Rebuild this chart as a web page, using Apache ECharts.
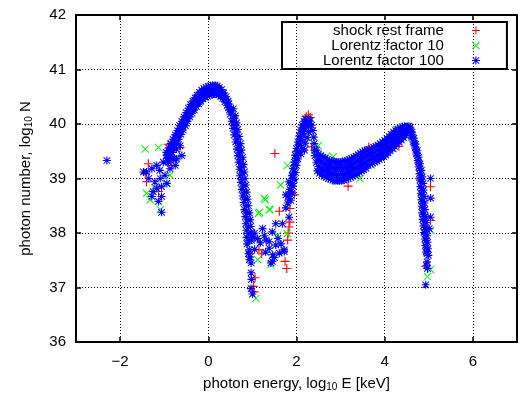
<!DOCTYPE html>
<html><head><meta charset="utf-8">
<script src="https://cdn.jsdelivr.net/npm/echarts@6/dist/echarts.min.js"></script>
<style>html,body{margin:0;padding:0;background:#fff}#c{width:531px;height:398px}</style>
</head><body><div id="c"></div>
<script>
const xTicks = [-2, 0, 2, 4, 6];
const yTicks = [36, 37, 38, 39, 40, 41, 42];
const seriesNames = ['shock rest frame', 'Lorentz factor 10', 'Lorentz factor 100'];

// ---- blue: Lorentz factor 100 ----
const blueCluster = [[-2.30,39.33],[-1.47,39.12],[-1.40,39.12],[-1.28,39.18],[-1.17,39.24],[-1.02,39.30],[-0.94,39.42],[-0.83,39.48],[-0.72,39.36],[-0.75,39.24],[-0.87,39.18],[-0.98,39.06],[-1.09,39.00],[-1.21,38.94],[-1.17,38.82],[-1.06,38.85],[-0.94,38.91],[-1.28,38.67],[-1.25,38.76],[-1.06,38.67],[-1.13,38.58],[-1.06,38.38],[-0.72,39.54],[-0.64,39.60],[-0.60,39.42],[-0.79,39.63],[-1.35,39.00],[-0.90,39.30],[-1.10,39.15],[-0.80,39.36]];
const blueHumpA = [[-0.95,39.48],[-0.90,39.56],[-0.85,39.64],[-0.80,39.72],[-0.75,39.80],[-0.70,39.88],[-0.65,39.97],[-0.60,40.05],[-0.55,40.13],[-0.50,40.21],[-0.45,40.29],[-0.40,40.36],[-0.35,40.42],[-0.30,40.48],[-0.25,40.53],[-0.20,40.58],[-0.15,40.62],[-0.10,40.65],[-0.05,40.67],[0.00,40.69],[0.05,40.70],[0.10,40.71],[0.15,40.71],[0.20,40.70],[0.25,40.67],[0.30,40.63],[0.35,40.57],[0.40,40.50],[0.45,40.42]];
const blueHumpB = [[-0.94,39.43],[-0.89,39.51],[-0.84,39.59],[-0.79,39.67],[-0.74,39.75],[-0.69,39.83],[-0.64,39.92],[-0.59,40.00],[-0.54,40.08],[-0.49,40.16],[-0.44,40.24],[-0.39,40.31],[-0.34,40.37],[-0.29,40.43],[-0.24,40.48],[-0.19,40.53],[-0.14,40.57],[-0.09,40.60],[-0.04,40.62],[0.01,40.64],[0.06,40.65],[0.11,40.66],[0.16,40.66],[0.21,40.65],[0.26,40.62],[0.31,40.58],[0.36,40.52],[0.41,40.45],[0.46,40.37]];
const blueHumpC = [[-0.93,39.37],[-0.88,39.45],[-0.83,39.53],[-0.78,39.61],[-0.73,39.69],[-0.68,39.77],[-0.63,39.86],[-0.58,39.94],[-0.53,40.02],[-0.48,40.10],[-0.43,40.18],[-0.38,40.25],[-0.33,40.31],[-0.28,40.37],[-0.23,40.42],[-0.18,40.47],[-0.13,40.51],[-0.08,40.54],[-0.03,40.56],[0.02,40.58],[0.07,40.59],[0.12,40.60],[0.17,40.60],[0.22,40.59],[0.27,40.56],[0.32,40.52],[0.37,40.46],[0.42,40.39],[0.47,40.31]];
const blueHumpD = [[-0.92,39.32],[-0.87,39.40],[-0.82,39.48],[-0.77,39.56],[-0.72,39.64],[-0.67,39.72],[-0.62,39.81],[-0.57,39.89],[-0.52,39.97],[-0.47,40.05],[-0.42,40.13],[-0.37,40.20],[-0.32,40.26],[-0.27,40.32],[-0.22,40.37],[-0.17,40.42],[-0.12,40.46],[-0.07,40.49],[-0.02,40.51],[0.03,40.53],[0.08,40.54],[0.13,40.55],[0.18,40.55],[0.23,40.54],[0.28,40.51],[0.33,40.47],[0.38,40.41],[0.43,40.34],[0.48,40.26]];
const blueFallLeft = [[0.46,40.30],[0.50,40.18],[0.53,40.05],[0.56,39.92],[0.59,39.80],[0.62,39.67],[0.65,39.54],[0.67,39.42],[0.69,39.30],[0.71,39.17],[0.72,39.05],[0.74,38.93],[0.76,38.80],[0.78,38.68],[0.80,38.56],[0.82,38.43],[0.84,38.30],[0.85,38.17],[0.86,38.05],[0.87,37.92],[0.88,37.80]];
const blueFallMid = [[0.53,40.24],[0.57,40.10],[0.60,39.97],[0.63,39.85],[0.66,39.72],[0.69,39.60],[0.71,39.47],[0.73,39.35],[0.75,39.22],[0.77,39.10],[0.78,38.98],[0.80,38.86],[0.82,38.74],[0.84,38.62],[0.86,38.50],[0.88,38.37],[0.90,38.24],[0.91,38.11],[0.92,37.99],[0.93,37.86]];
const blueFallRight = [[0.57,40.28],[0.61,40.15],[0.64,40.02],[0.67,39.90],[0.70,39.77],[0.73,39.64],[0.75,39.52],[0.78,39.39],[0.80,39.26],[0.82,39.12],[0.83,39.00],[0.85,38.88],[0.87,38.75],[0.89,38.62],[0.91,38.50],[0.93,38.37],[0.95,38.24],[0.96,38.12],[0.97,38.00],[0.98,37.87]];
const blueColumn = [[0.93,37.69],[0.95,37.56],[0.97,37.45],[0.93,37.51],[0.97,37.27],[0.98,37.15],[0.97,36.98],[1.00,36.88],[0.91,37.62]];
const blueDip = [[1.23,38.08],[1.31,37.87],[1.38,37.72],[1.46,37.60],[1.53,37.78],[1.42,37.45],[1.68,38.17],[1.72,37.66],[1.38,37.84],[1.45,38.02],[1.45,37.48],[1.61,37.63],[1.53,38.17],[1.72,37.69],[1.83,38.29],[1.76,38.46],[1.76,38.70],[1.83,38.94],[1.91,39.06],[1.05,38.00],[1.12,37.90],[1.18,37.82],[1.27,37.95],[1.58,37.90],[1.65,37.80],[1.30,37.65],[1.50,37.55],[1.05,37.70],[1.00,37.92]];
const blueRiseLeft = [[1.80,38.55],[1.82,38.68],[1.85,38.80],[1.87,38.92],[1.90,39.05],[1.92,39.18],[1.95,39.30],[1.97,39.43],[2.00,39.55],[2.03,39.67],[2.06,39.78],[2.09,39.89],[2.13,39.98],[2.17,40.05],[2.21,40.09]];
const blueRiseMid = [[1.83,38.62],[1.86,38.75],[1.89,38.88],[1.91,39.00],[1.94,39.12],[1.96,39.24],[1.99,39.37],[2.02,39.49],[2.05,39.61],[2.08,39.72],[2.11,39.83],[2.15,39.93],[2.19,40.01],[2.23,40.07],[2.27,40.09]];
const blueRiseRight = [[1.87,38.60],[1.90,38.73],[1.92,38.86],[1.95,38.98],[1.98,39.11],[2.00,39.24],[2.03,39.36],[2.06,39.49],[2.09,39.61],[2.12,39.72],[2.15,39.83],[2.18,39.93],[2.22,40.00],[2.26,40.05],[2.29,40.06],[2.15,39.55],[2.20,39.65],[2.24,39.75],[2.27,39.86],[2.28,39.95],[2.10,39.45],[2.18,39.52]];
const blueSpikeFall = [[2.30,40.05],[2.34,39.98],[2.37,39.88],[2.39,39.76],[2.40,39.64],[2.41,39.52],[2.42,39.42]];
const blueTroughA = [[2.45,39.52],[2.50,39.45],[2.55,39.42],[2.60,39.39],[2.65,39.37],[2.70,39.35],[2.75,39.33],[2.80,39.32],[2.85,39.31],[2.90,39.30],[2.95,39.30],[3.00,39.30],[3.05,39.31],[3.10,39.32],[3.15,39.33],[3.20,39.35],[3.25,39.37],[3.30,39.39],[3.35,39.41],[3.40,39.44],[3.45,39.46],[3.50,39.49],[3.55,39.51],[3.60,39.51],[3.65,39.53],[3.70,39.55],[3.75,39.57],[3.80,39.59],[3.85,39.61],[3.90,39.64],[3.95,39.67],[4.00,39.70],[4.05,39.73],[4.10,39.77],[4.15,39.81],[4.20,39.85],[4.25,39.88],[4.30,39.91],[4.35,39.93],[4.40,39.95],[4.45,39.96]];
const blueTroughB = [[2.475,39.38],[2.525,39.33],[2.575,39.30],[2.625,39.27],[2.675,39.25],[2.725,39.23],[2.775,39.21],[2.825,39.20],[2.875,39.19],[2.925,39.19],[2.975,39.19],[3.025,39.19],[3.075,39.20],[3.125,39.21],[3.175,39.23],[3.225,39.25],[3.275,39.27],[3.325,39.29],[3.375,39.31],[3.425,39.34],[3.475,39.36],[3.525,39.39],[3.575,39.41],[3.625,39.43],[3.675,39.45],[3.725,39.47],[3.775,39.49],[3.825,39.51],[3.875,39.53],[3.925,39.56],[3.975,39.59],[4.025,39.62],[4.075,39.66],[4.125,39.70],[4.175,39.74],[4.225,39.78],[4.275,39.82],[4.325,39.85],[4.375,39.89],[4.425,39.92],[4.475,39.94]];
const blueTroughC = [[2.45,39.29],[2.50,39.22],[2.55,39.19],[2.60,39.16],[2.65,39.14],[2.70,39.12],[2.75,39.10],[2.80,39.09],[2.85,39.08],[2.90,39.07],[2.95,39.07],[3.00,39.07],[3.05,39.08],[3.10,39.09],[3.15,39.10],[3.20,39.12],[3.25,39.14],[3.30,39.16],[3.35,39.19],[3.40,39.21],[3.45,39.24],[3.50,39.26],[3.55,39.29],[3.60,39.32],[3.65,39.34],[3.70,39.36],[3.75,39.38],[3.80,39.40],[3.85,39.43],[3.90,39.45],[3.95,39.48],[4.00,39.51],[4.05,39.55],[4.10,39.58],[4.15,39.62],[4.20,39.66],[4.25,39.70],[4.30,39.74],[4.35,39.78],[4.40,39.82],[4.45,39.85],[4.50,39.88]];
const blueTroughD = [[2.475,39.14],[2.525,39.10],[2.575,39.07],[2.625,39.04],[2.675,39.02],[2.725,39.00],[2.775,38.99],[2.825,38.97],[2.875,38.96],[2.925,38.96],[2.975,38.96],[3.025,38.96],[3.075,38.97],[3.125,38.99],[3.175,39.00],[3.225,39.02],[3.275,39.04],[3.325,39.06],[3.375,39.09],[3.425,39.11],[3.475,39.14],[3.525,39.16],[3.575,39.19],[3.625,39.24],[3.675,39.26],[3.725,39.28],[3.775,39.30],[3.825,39.32],[3.875,39.35],[3.925,39.37],[3.975,39.40],[4.025,39.43],[4.075,39.47],[4.125,39.51],[4.175,39.55],[4.225,39.59],[4.275,39.63],[4.325,39.67],[4.375,39.71],[4.425,39.75],[4.475,39.79]];
const blueEndLeft = [[4.52,39.95],[4.57,39.88],[4.61,39.78],[4.65,39.67],[4.69,39.56],[4.72,39.45],[4.75,39.33],[4.77,39.21],[4.79,39.09],[4.80,38.97],[4.81,38.85],[4.82,38.73],[4.83,38.61],[4.84,38.49],[4.85,38.37],[4.86,38.25],[4.88,38.13],[4.89,38.01],[4.91,37.89],[4.92,37.77],[4.94,37.65]];
const blueEndMid = [[4.55,39.96],[4.59,39.86],[4.63,39.76],[4.67,39.65],[4.71,39.53],[4.74,39.42],[4.77,39.30],[4.80,39.18],[4.82,39.06],[4.83,38.94],[4.84,38.82],[4.85,38.70],[4.86,38.58],[4.87,38.46],[4.88,38.34],[4.89,38.22],[4.91,38.10],[4.92,37.98],[4.94,37.86],[4.95,37.74],[4.96,37.62]];
const blueEndRight = [[4.58,39.94],[4.62,39.85],[4.66,39.74],[4.70,39.63],[4.74,39.51],[4.77,39.39],[4.80,39.27],[4.83,39.15],[4.85,39.03],[4.87,38.91],[4.88,38.79],[4.89,38.67],[4.90,38.55],[4.91,38.43],[4.92,38.31],[4.94,38.19],[4.95,38.07],[4.96,37.95],[4.97,37.83],[4.98,37.71],[4.99,37.59]];
const blueEndTail = [[4.96,37.47],[4.97,37.35],[4.95,37.40],[4.93,37.05],[5.04,39.00],[5.04,38.64],[5.04,38.29],[5.01,38.08]];

// ---- red: shock rest frame ----
const redPoints = [[-1.36,39.27],[-1.43,39.09],[-1.40,38.94],[-0.91,39.63],[-0.64,39.57],[-1.13,38.76],[-0.83,39.24],
  [-0.60,40.00],[-0.30,40.40],[0.00,40.60],[0.30,40.60],[0.60,40.00],[0.75,39.20],[0.85,38.40],
  [1.51,39.46],[0.95,37.62],[1.06,37.18],[1.15,37.69],[1.74,37.48],[1.83,38.11],[1.80,37.87],[1.61,38.40],[1.95,38.70],[1.21,37.62],[1.78,37.35],[1.81,38.00],[1.85,38.20],[1.89,38.75],[1.85,38.45],[1.04,36.92],[1.02,37.02],
  [2.00,39.50],[2.22,40.14],[2.27,40.17],[2.31,40.12],[2.34,39.58],[2.70,39.20],[3.30,39.20],[3.90,39.50],[4.40,39.85],
  [3.17,38.86],[3.64,39.58],[4.32,39.59],[4.80,39.00],[4.90,38.30],[5.04,38.85],[5.04,38.23],[4.93,37.39]];

// ---- green: Lorentz factor 10 ----
const greenPoints = [[-1.43,39.54],[-1.13,39.57],[-1.40,38.73],[-1.32,38.61],[-1.09,38.43],[-0.94,38.91],[-0.87,39.06],[-0.72,39.39],[-1.21,38.82],
  [-0.50,40.02],[-0.20,40.40],[0.30,40.50],[0.60,40.10],[0.82,38.70],[0.90,37.90],
  [1.29,38.61],[1.38,38.43],[1.14,38.36],[1.08,36.80],[1.12,37.51],[1.42,37.42],[1.08,37.87],[1.27,38.64],[1.16,38.38],[1.40,38.43],[1.57,37.96],[1.79,37.99],[1.64,38.88],[1.79,39.24],[1.98,39.30],
  [2.12,39.83],[2.49,39.60],[2.68,39.41],[2.83,39.40],[2.90,38.95],[3.44,39.00],[3.70,39.25],[4.19,39.55],[4.27,39.90],[4.60,39.75],[4.85,38.60],
  [5.04,37.33],[5.04,38.05],[4.97,37.20]];

const blueSeries = [].concat(blueCluster, blueHumpA, blueHumpB, blueHumpC, blueHumpD, blueFallLeft, blueFallMid, blueFallRight, blueColumn, blueDip,
  blueRiseLeft, blueRiseMid, blueRiseRight, blueSpikeFall, blueTroughA, blueTroughB, blueTroughC, blueTroughD, blueEndLeft, blueEndMid, blueEndRight, blueEndTail);

const FONT = 'Liberation Sans, Arial, Helvetica, sans-serif';
const FS = 15;
const PLUS = 'path://M4.4,0H5.6V4.4H10V5.6H5.6V10H4.4V5.6H0V4.4H4.4Z';
const CROSS = 'path://M0,0.85L0.85,0L10,9.15L9.15,10Z M9.15,0L10,0.85L0.85,10L0,9.15Z';
const STAR = 'path://M4.3,0H5.7V4.3H10V5.7H5.7V10H4.3V5.7H0V4.3H4.3Z M0.5,1.4L1.4,0.5L9.5,8.6L8.6,9.5Z M8.6,0.5L9.5,1.4L1.4,9.5L0.5,8.6Z';

const chart = echarts.init(document.getElementById('c'), null, {renderer: 'canvas'});
const axisLine = {show: true, onZero: false, lineStyle: {color: '#000', width: 2}};
const tick = {show: true, inside: true, length: 5, lineStyle: {color: '#000', width: 1.5}};
const grid = {show: true, lineStyle: {color: '#000', width: 1, type: [1, 2]}};
const richName = {
  a: {fontSize: FS, fontFamily: FONT, color: '#000', lineHeight: 17},
  b: {fontSize: 10, fontFamily: FONT, color: '#000', lineHeight: 8, verticalAlign: 'bottom'}
};
chart.setOption({
  animation: false,
  backgroundColor: '#fff',
  grid: {left: 76, right: 14, top: 15, bottom: 56},
  legend: {
    data: seriesNames, orient: 'vertical', left: 282, top: 22, align: 'right',
    itemWidth: 8, itemHeight: 8, itemGap: 0, padding: [1, 27, 1, 41],
    borderColor: '#000', borderWidth: 2, selectedMode: false,
    formatter: n => '{t|' + n + '}',
    textStyle: {rich: {t: {fontSize: FS, fontFamily: FONT, color: '#000', lineHeight: 14.7, padding: [0, 23, 0, 0]}}}
  },
  xAxis: [{
    type: 'value', min: -3, max: 7, position: 'bottom',
    axisLine, axisTick: Object.assign({customValues: xTicks}, tick),
    axisLabel: {customValues: xTicks, fontSize: FS, fontFamily: FONT, color: '#000', margin: 12,
      formatter: v => (v < 0 ? '\u2212' + Math.abs(v) : String(v))},
    splitLine: grid,
    name: '{a|photon energy, log}{b|10}{a| E [keV]}', nameLocation: 'middle', nameGap: 33,
    nameTextStyle: {rich: richName}
  }, {
    type: 'value', min: -3, max: 7, position: 'top',
    axisLine, axisTick: Object.assign({customValues: xTicks}, tick),
    axisLabel: {show: false, customValues: xTicks}, splitLine: {show: false}
  }],
  yAxis: [{
    type: 'value', min: 36, max: 42, interval: 1, position: 'left',
    axisLine, axisTick: tick,
    axisLabel: {fontSize: FS, fontFamily: FONT, color: '#000', margin: 10},
    splitLine: grid,
    name: '{a|photon number, log}{b|10}{a| N}', nameLocation: 'middle', nameGap: 42, nameRotate: 90,
    nameTextStyle: {rich: richName}
  }, {
    type: 'value', min: 36, max: 42, interval: 1, position: 'right',
    axisLine, axisTick: tick, axisLabel: {show: false}, splitLine: {show: false}
  }],
  series: [
    {name: seriesNames[0], type: 'scatter', data: redPoints, symbol: PLUS, symbolSize: 9,
      itemStyle: {color: '#ff0000', opacity: 1}, z: 2},
    {name: seriesNames[1], type: 'scatter', data: greenPoints, symbol: CROSS, symbolSize: 8,
      itemStyle: {color: '#00f000', opacity: 1}, z: 3},
    {name: seriesNames[2], type: 'scatter', data: blueSeries, symbol: STAR, symbolSize: 8,
      itemStyle: {color: '#0000ff', opacity: 1}, z: 4}
  ]
});
</script>
</body></html>
